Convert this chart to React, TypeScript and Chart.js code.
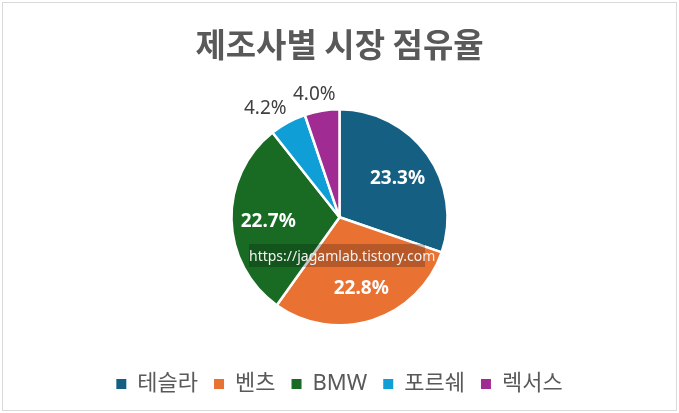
import React, { useEffect, useRef } from 'react';
import { Chart, registerables, ChartConfiguration, Plugin } from 'chart.js';

Chart.register(...registerables);

const makers = ['테슬라', '벤츠', 'BMW', '포르쉐', '렉서스'];
const shares = [23.3, 22.8, 22.7, 4.2, 4.0];
const sliceColors = ['#156082', '#E97132', '#196B24', '#0F9ED5', '#A02B93'];
const outsideLabel = [false, false, false, true, true];

const FONT = '"Segoe UI", "Noto Sans", "Noto Sans CJK KR", sans-serif';
const KFONT = '"Noto Sans CJK KR", "Noto Sans", sans-serif';

// percent labels drawn on / beside each slice
const sliceLabels: Plugin<'pie'> = {
    id: 'sliceLabels',
    afterDatasetsDraw(chart) {
        const ctx = chart.ctx;
        const meta = chart.getDatasetMeta(0);
        ctx.save();
        meta.data.forEach((el: any, i) => {
            const { x, y, startAngle, endAngle, outerRadius } = el.getProps(
                ['x', 'y', 'startAngle', 'endAngle', 'outerRadius'], true);
            const mid = (startAngle + endAngle) / 2;
            const dx = Math.cos(mid);
            const dy = Math.sin(mid);
            const text = shares[i].toFixed(1) + '%';
            ctx.textAlign = 'center';
            ctx.textBaseline = 'middle';
            if (outsideLabel[i]) {
                ctx.font = `19px ${FONT}`;
                ctx.fillStyle = '#404040';
                const w = ctx.measureText(text).width;
                const r = outerRadius + 7;
                ctx.fillText(text, x + dx * r + dx * w * 0.95, y + dy * r + dy * 9);
            } else {
                ctx.font = `bold 19px ${FONT}`;
                ctx.fillStyle = '#FFFFFF';
                const r = outerRadius * 0.66;
                ctx.fillText(text, x + dx * r, y + dy * r + 3);
            }
        });
        ctx.restore();
    },
};

const App: React.FC = () => {
    const canvasRef = useRef<HTMLCanvasElement>(null);

    useEffect(() => {
        if (!canvasRef.current) return;

        const config: ChartConfiguration<'pie'> = {
            type: 'pie',
            data: {
                labels: makers,
                datasets: [{
                    data: shares,
                    backgroundColor: sliceColors,
                    borderColor: '#FFFFFF',
                    borderWidth: 2.5,
                    radius: 108,
                }],
            },
            options: {
                responsive: false,
                animation: false,
                layout: { padding: { top: 0, bottom: 8, left: 0, right: 0 } },
                plugins: {
                    title: {
                        display: true,
                        text: '제조사별 시장 점유율',
                        color: '#595959',
                        font: { family: KFONT, size: 33, weight: 'bold' },
                        padding: { top: 25, bottom: 13 },
                    },
                    legend: {
                        position: 'bottom',
                        labels: {
                            color: '#595959',
                            font: { family: FONT, size: 22 },
                            boxWidth: 10,
                            boxHeight: 10,
                            padding: 16,
                            generateLabels(chart) {
                                return makers.map((m, i) => ({
                                    text: m,
                                    fillStyle: sliceColors[i],
                                    strokeStyle: sliceColors[i],
                                    lineWidth: 0,
                                    hidden: false,
                                    index: i,
                                    fontColor: '#595959',
                                }));
                            },
                        },
                    },
                    tooltip: { enabled: false },
                },
            },
            plugins: [sliceLabels],
        };

        const chart = new Chart(canvasRef.current, config);
        return () => chart.destroy();
    }, []);

    return (
        <div style={{ position: 'fixed', left: 0, top: 0, width: 679, height: 413, background: '#fff' }}>
            <div style={{
                position: 'absolute', left: 2, top: 2, width: 675, height: 409,
                border: '1px solid #D9D9D9', boxSizing: 'border-box',
            }} />
            <canvas ref={canvasRef} width={679} height={413}
                style={{ position: 'absolute', left: 0, top: 0, width: 679, height: 413 }} />
            <div style={{
                position: 'absolute', left: 249, top: 244, width: 176, height: 23,
                background: 'rgba(0,0,0,0.22)', color: '#F2F2F2',
                font: `14px ${FONT}`, lineHeight: '23px', textAlign: 'center', whiteSpace: 'nowrap',
            }}>https://jagamlab.tistory.com</div>
        </div>
    );
};

export default App;
